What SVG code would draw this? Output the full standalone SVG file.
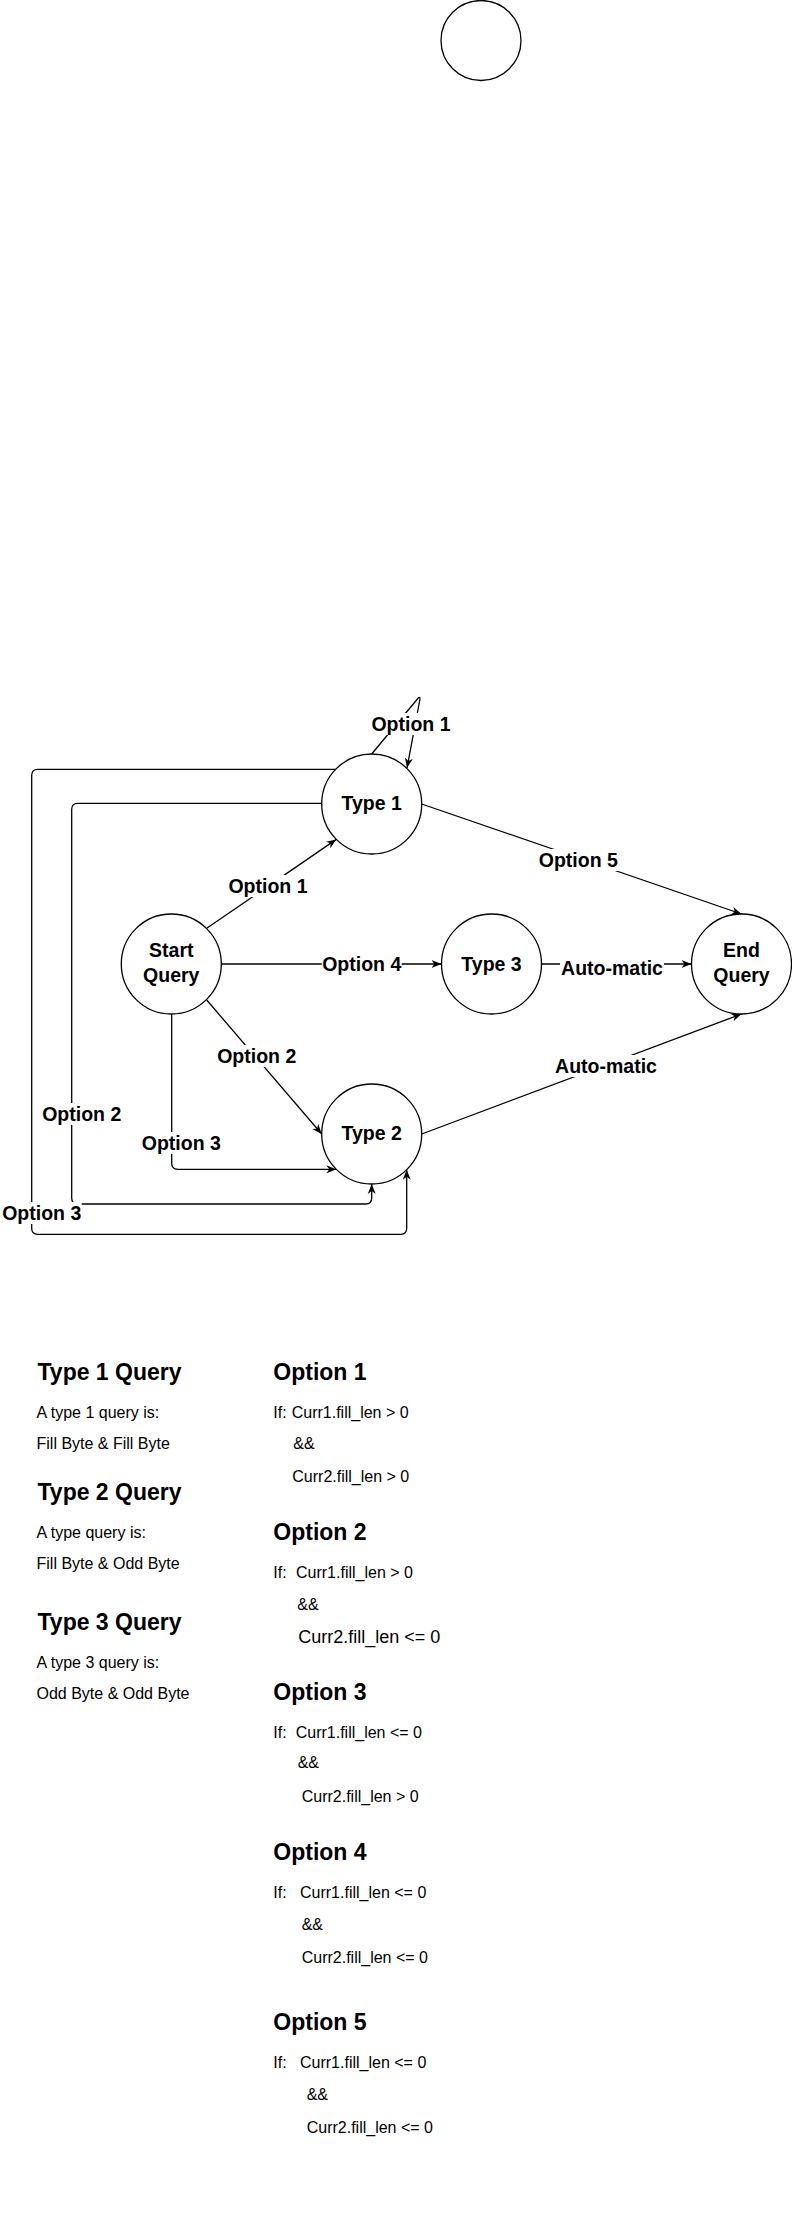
<svg xmlns="http://www.w3.org/2000/svg" width="792" height="2215" viewBox="0 0 792 2215">
<style>
.node{fill:#fff;stroke:#000;stroke-width:1.3}
.edge{fill:none;stroke:#000;stroke-width:1.3}
.lbl{font-family:"Liberation Sans",Arial,sans-serif;font-weight:bold;font-size:19.5px;text-anchor:middle;fill:#000}
.bg{fill:#fff}
.h{font-family:"Liberation Sans",Arial,sans-serif;font-weight:bold;font-size:23px;fill:#000}
.t{font-family:"Liberation Sans",Arial,sans-serif;font-size:16px;fill:#000}
.t18{font-family:"Liberation Sans",Arial,sans-serif;font-size:18px;fill:#000}
</style>
<defs>
<marker id="arr" viewBox="0 0 10 10" refX="10" refY="5" markerWidth="10" markerHeight="10" markerUnits="userSpaceOnUse" orient="auto">
<path d="M0,1 L10,5 L0,9 L3,5 z" fill="#000"/>
</marker>
</defs>
<rect width="792" height="2215" fill="#fff"/>

<g id="top-circle"><circle class="node" cx="481" cy="40.5" r="40"/></g>

<g id="connectors">
<path class="edge" marker-end="url(#arr)" d="M371.7,754 L417,699.5 Q420.5,695 419.8,700 L407,768"/>
<path class="edge" marker-end="url(#arr)" d="M206.7,928.3 L336.3,839.4"/>
<path class="edge" marker-end="url(#arr)" d="M221.3,964 L441.5,964"/>
<path class="edge" marker-end="url(#arr)" d="M541.5,964 L691.5,964"/>
<path class="edge" marker-end="url(#arr)" d="M421.7,804 L741.5,914"/>
<path class="edge" marker-end="url(#arr)" d="M421.7,1134 L741.5,1014"/>
<path class="edge" marker-end="url(#arr)" d="M206.7,1000 L321.7,1134"/>
<path class="edge" marker-end="url(#arr)" d="M171.7,1014 V1163.3 Q171.7,1169.3 177.7,1169.3 H336.3"/>
<path class="edge" marker-end="url(#arr)" d="M321.7,803.3 H77.7 Q71.7,803.3 71.7,809.3 V1198 Q71.7,1204 77.7,1204 H365.7 Q371.7,1204 371.7,1198 V1184"/>
<path class="edge" marker-end="url(#arr)" d="M335.7,769.3 H37.7 Q31.7,769.3 31.7,775.3 V1228.3 Q31.7,1234.3 37.7,1234.3 H400.7 Q406.7,1234.3 406.7,1228.3 V1169.7"/>
<g id="edge-labels">
<rect class="bg" x="371" y="713" width="80" height="22"/><text class="lbl" x="411" y="731">Option 1</text>
<rect class="bg" x="228" y="875" width="80" height="22"/><text class="lbl" x="268" y="893">Option 1</text>
<rect class="bg" x="321.7" y="953" width="80" height="22"/><text class="lbl" x="361.7" y="971">Option 4</text>
<rect class="bg" x="538.3" y="849" width="80" height="22"/><text class="lbl" x="578.3" y="867">Option 5</text>
<rect class="bg" x="560" y="957" width="104" height="22"/><text class="lbl" x="612" y="975">Auto-matic</text>
<rect class="bg" x="554" y="1055" width="104" height="22"/><text class="lbl" x="606" y="1073">Auto-matic</text>
<rect class="bg" x="216.7" y="1045" width="80" height="22"/><text class="lbl" x="256.7" y="1063">Option 2</text>
<rect class="bg" x="141.3" y="1132" width="80" height="22"/><text class="lbl" x="181.3" y="1150">Option 3</text>
<rect class="bg" x="41.7" y="1103" width="80" height="22"/><text class="lbl" x="81.7" y="1121">Option 2</text>
<rect class="bg" x="1.7" y="1202" width="80" height="22"/><text class="lbl" x="41.7" y="1220">Option 3</text>
</g>
</g>

<g id="type1"><circle class="node" cx="371.7" cy="804" r="50"/><text class="lbl" x="371.7" y="810">Type 1</text></g>
<g id="start"><circle class="node" cx="171.3" cy="964" r="50"/><text class="lbl" x="171.3" y="957">Start</text><text class="lbl" x="171.3" y="981.5">Query</text></g>
<g id="type3"><circle class="node" cx="491.5" cy="964" r="50"/><text class="lbl" x="491.5" y="970.7">Type 3</text></g>
<g id="end"><circle class="node" cx="741.5" cy="964" r="50"/><text class="lbl" x="741.5" y="957">End</text><text class="lbl" x="741.5" y="981.5">Query</text></g>
<g id="type2"><circle class="node" cx="371.7" cy="1134" r="50"/><text class="lbl" x="371.7" y="1140">Type 2</text></g>

<g id="types-text">
<text class="h" x="37.5" y="1380">Type 1 Query</text>
<text class="t" x="36.5" y="1418.3">A type 1 query is:</text>
<text class="t" x="36.5" y="1449">Fill Byte &amp; Fill Byte</text>
<text class="h" x="37.5" y="1500">Type 2 Query</text>
<text class="t" x="36.5" y="1538.3">A type query is:</text>
<text class="t" x="36.5" y="1569">Fill Byte &amp; Odd Byte</text>
<text class="h" x="37.5" y="1630">Type 3 Query</text>
<text class="t" x="36.5" y="1668.3">A type 3 query is:</text>
<text class="t" x="36.5" y="1699">Odd Byte &amp; Odd Byte</text>
</g>

<g id="options-text">
<text class="h" x="273.3" y="1380">Option 1</text>
<text class="t" x="273.3" y="1418.3">If:</text><text class="t" x="291.7" y="1418.3">Curr1.fill_len &gt; 0</text>
<text class="t" x="293.3" y="1449">&amp;&amp;</text>
<text class="t" x="292.3" y="1481.7">Curr2.fill_len &gt; 0</text>

<text class="h" x="273.3" y="1540">Option 2</text>
<text class="t" x="273.3" y="1578.3">If:</text><text class="t" x="296" y="1578.3">Curr1.fill_len &gt; 0</text>
<text class="t" x="297.3" y="1610">&amp;&amp;</text>
<text class="t18" x="298.3" y="1643.3">Curr2.fill_len &lt;= 0</text>

<text class="h" x="273.3" y="1700">Option 3</text>
<text class="t" x="273.3" y="1737.7">If:</text><text class="t" x="295.7" y="1737.7">Curr1.fill_len &lt;= 0</text>
<text class="t" x="297.7" y="1768.3">&amp;&amp;</text>
<text class="t" x="301.7" y="1801.7">Curr2.fill_len &gt; 0</text>

<text class="h" x="273.3" y="1860">Option 4</text>
<text class="t" x="273.3" y="1897.7">If:</text><text class="t" x="300" y="1897.7">Curr1.fill_len &lt;= 0</text>
<text class="t" x="301.7" y="1930">&amp;&amp;</text>
<text class="t" x="301.7" y="1963.3">Curr2.fill_len &lt;= 0</text>

<text class="h" x="273.3" y="2030">Option 5</text>
<text class="t" x="273.3" y="2067.7">If:</text><text class="t" x="300" y="2067.7">Curr1.fill_len &lt;= 0</text>
<text class="t" x="306.7" y="2100">&amp;&amp;</text>
<text class="t" x="306.7" y="2133.3">Curr2.fill_len &lt;= 0</text>
</g>
</svg>
